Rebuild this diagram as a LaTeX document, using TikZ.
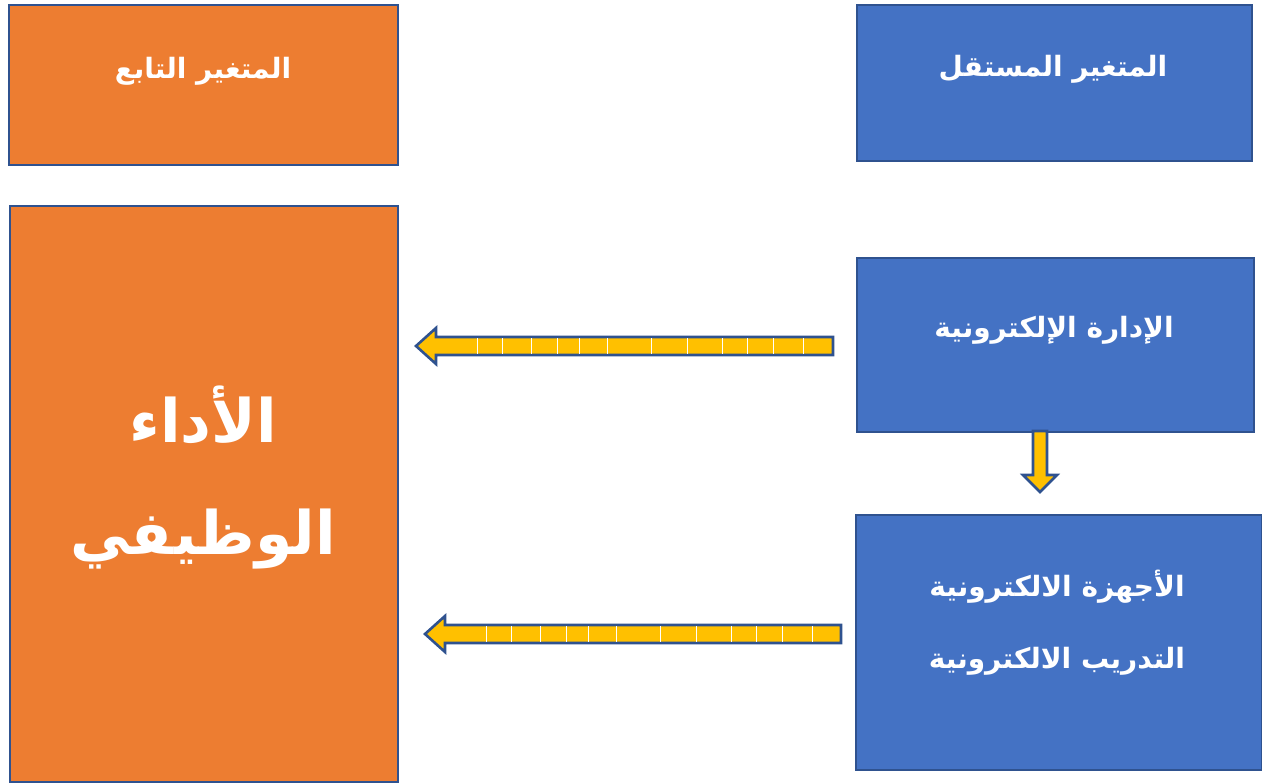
\documentclass[tikz,border=0pt]{standalone}
\usepackage{fontspec}
\TeXXeTstate=1
\newfontfamily\arabicfont[Script=Arabic]{DejaVu Sans}
\definecolor{boxorange}{HTML}{ED7D31}
\definecolor{boxblue}{HTML}{4472C4}
\definecolor{edgeblue}{HTML}{2F528F}
\definecolor{arrowgold}{HTML}{FFC000}
\tikzset{
  panel/.style={draw=edgeblue, line width=2.2pt, inner sep=0pt, anchor=north west},
  deppanel/.style={panel, fill=boxorange},
  indpanel/.style={panel, fill=boxblue},
  label/.style={text=white, font=\arabicfont\bfseries\fontsize{28}{34}\selectfont, align=center},
  biglabel/.style={text=white, font=\arabicfont\bfseries\fontsize{60}{112}\selectfont, align=center},
  blockarrow/.style={draw=edgeblue, line width=2.6pt, fill=arrowgold, line join=miter},
  seam/.style={draw=white, line width=1pt}
}
\begin{document}
\begin{tikzpicture}[x=1pt,y=-1pt]
\useasboundingbox (0,0) rectangle (1262,783);
% panels
\node[deppanel, minimum width=389pt, minimum height=160pt] (dephead) at (8,4) {};
\node[indpanel, minimum width=395pt, minimum height=156pt] (indhead) at (856,4) {};
\node[deppanel, minimum width=388pt, minimum height=576pt] (perf) at (9,205) {};
\node[indpanel, minimum width=397pt, minimum height=174pt] (eman) at (856,257) {};
\node[indpanel, minimum width=406pt, minimum height=255pt] (edev) at (855,514) {};
% labels
\node[label] (depname) at (203,71) {\beginR المتغير التابع\endR};
\node[label] (indname) at (1053,69) {\beginR المتغير المستقل\endR};
\node[biglabel] (perfname) at (203,477) {\beginR الأداء\endR\\\beginR الوظيفي\endR};
\node[label] (emanname) at (1054,330) {\beginR الإدارة الإلكترونية\endR};
\node[label] (edevname) at (1057,623) {\beginR الأجهزة الالكترونية\endR\\[38pt]\beginR التدريب الالكترونية\endR};
% block arrows
\coordinate (a1) at (416,346);
\coordinate (a2) at (425,634);
\coordinate (a3) at (1040,431);
\foreach \c/\len in {a1/417, a2/416}{
  \draw[blockarrow, shift={(\c)}] (0,0) -- (20,-18) -- (20,-9) -- (\len,-9) -- (\len,9) -- (20,9) -- (20,18) -- cycle;
  \foreach \s in {61,86,115,141,163,191,235,271,306,331,357,387}
    \draw[seam, shift={(\c)}] (\s,-7.7) -- (\s,7.7);
}
\draw[blockarrow, shift={(a3)}] (-7,0) -- (7,0) -- (7,44) -- (17,44) -- (0,61) -- (-17,44) -- (-7,44) -- cycle;
\end{tikzpicture}
\end{document}
